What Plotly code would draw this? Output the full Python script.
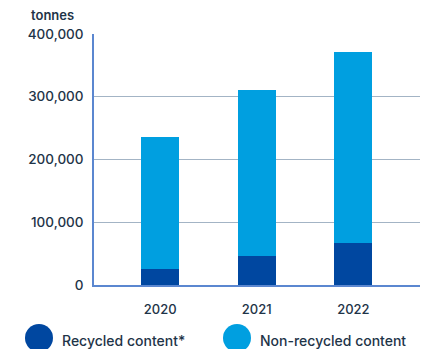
import plotly.graph_objects as go

# Packaging weight by year, in tonnes
years = ["2020", "2021", "2022"]
recycled = [25500, 46500, 67500]
non_recycled = [210500, 264500, 304500]
series_names = ["Recycled content*", "Non-recycled content"]
series_colors = ["#0047a0", "#009fe0"]
y_ticks = [0, 100000, 200000, 300000, 400000]
y_tick_labels = ["0", "100,000", "200,000", "300,000", "400,000"]
unit_label = "tonnes"

TEXT = "#1e3448"
FONT = "Inter"

fig = go.Figure()
for name, vals, col in zip(series_names, [recycled, non_recycled], series_colors):
    fig.add_trace(go.Bar(
        x=years, y=vals, name=name, marker=dict(color=col, line=dict(width=0)),
        width=0.394, showlegend=False,
    ))

W, H = 426, 349
L, R, T, B = 94, 6, 34, 64
pw, ph = W - L - R, H - T - B


def px_x(px):
    return (px - L) / pw


def px_y(py):
    return (H - B - py) / ph


# Legend: large circles with labels below the axis
legend_items = [(39, 60), (237, 258)]
for (cx, tx), name, col in zip(legend_items, series_names, series_colors):
    r = 14
    fig.add_shape(type="circle", xref="paper", yref="paper",
                  x0=px_x(cx - r), x1=px_x(cx + r),
                  y0=px_y(338 + r), y1=px_y(338 - r),
                  fillcolor=col, line=dict(width=0), layer="above")
    fig.add_annotation(xref="paper", yref="paper", x=px_x(tx), y=px_y(340),
                       text=name, showarrow=False, xanchor="left", yanchor="middle",
                       font=dict(family=FONT, size=14, color=TEXT, weight=500))

fig.add_annotation(xref="paper", yref="paper", x=px_x(29), y=px_y(15),
                   text=unit_label, showarrow=False, xanchor="left", yanchor="middle",
                   font=dict(family=FONT, size=13, color=TEXT, weight=600))

fig.update_layout(
    width=W, height=H,
    margin=dict(l=L, r=R, t=T, b=B),
    barmode="stack",
    plot_bgcolor="white", paper_bgcolor="white",
    font=dict(family=FONT, size=13, color=TEXT, weight=500),
    xaxis=dict(
        type="category", range=[-0.685, 2.69],
        showgrid=False, showline=True, linecolor="#5b87d0", linewidth=1.5,
        ticks="", ticklabelstandoff=12, tickfont=dict(size=13, weight=500),
        fixedrange=True,
    ),
    yaxis=dict(
        range=[0, 400000], tickvals=y_ticks, ticktext=y_tick_labels,
        showgrid=True, gridcolor="#a3b4c5", gridwidth=1.2,
        zeroline=False, showline=True, linecolor="#5b87d0", linewidth=1.5,
        ticks="", ticklabelstandoff=6, tickfont=dict(size=13.5, weight=500),
        fixedrange=True,
    ),
)

fig.write_html("out.html")
